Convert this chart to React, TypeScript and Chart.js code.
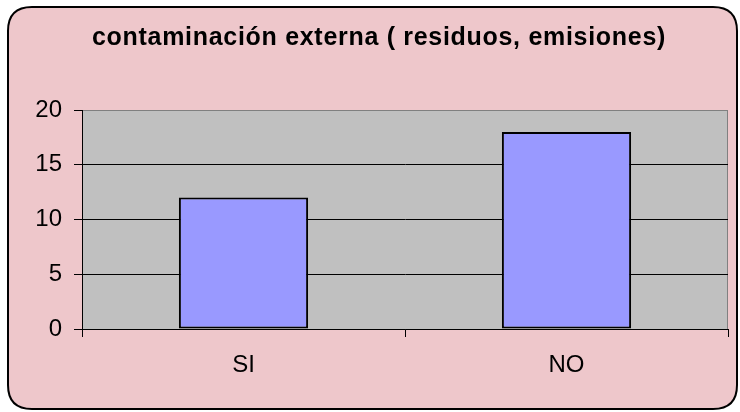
import React, { useEffect, useRef } from "react";
import { Chart, registerables } from "chart.js";

Chart.register(...registerables);

const categories = ["SI", "NO"];
const values = [12, 18];
const yTicks = [0, 5, 10, 15, 20];
const titleText = "contaminación externa ( residuos, emisiones)";

const FONT = "'Liberation Sans', Arial, sans-serif";

function roundRect(ctx: CanvasRenderingContext2D, x: number, y: number, w: number, h: number, r: number) {
  ctx.beginPath();
  ctx.moveTo(x + r, y);
  ctx.lineTo(x + w - r, y);
  ctx.quadraticCurveTo(x + w, y, x + w, y + r);
  ctx.lineTo(x + w, y + h - r);
  ctx.quadraticCurveTo(x + w, y + h, x + w - r, y + h);
  ctx.lineTo(x + r, y + h);
  ctx.quadraticCurveTo(x, y + h, x, y + h - r);
  ctx.lineTo(x, y + r);
  ctx.quadraticCurveTo(x, y, x + r, y);
  ctx.closePath();
}

const framePlugin = {
  id: "frame",
  beforeDraw(chart: any) {
    const ctx = chart.ctx as CanvasRenderingContext2D;
    const { left, right, top, bottom } = chart.chartArea;
    ctx.save();
    ctx.fillStyle = "#fff";
    ctx.fillRect(0, 0, chart.width, chart.height);
    roundRect(ctx, 8, 7, 729, 402, 24);
    ctx.fillStyle = "#EEC7CB";
    ctx.fill();
    ctx.lineWidth = 2;
    ctx.strokeStyle = "#000";
    ctx.stroke();
    ctx.fillStyle = "#C0C0C0";
    ctx.fillRect(left, top, right - left, bottom - top);
    ctx.strokeStyle = "#808080";
    ctx.lineWidth = 1;
    ctx.beginPath();
    ctx.moveTo(left, top + 0.5);
    ctx.lineTo(right - 0.5, top + 0.5);
    ctx.lineTo(right - 0.5, bottom);
    ctx.stroke();
    ctx.restore();
  },
  afterDraw(chart: any) {
    const ctx = chart.ctx as any;
    ctx.save();
    ctx.font = `bold 25px ${FONT}`;
    ctx.fillStyle = "#000";
    ctx.textAlign = "center";
    ctx.textBaseline = "alphabetic";
    try { ctx.letterSpacing = "0.7px"; } catch (e) {}
    ctx.fillText(titleText, 379, 45);
    ctx.restore();
  },
};

export default function App() {
  const ref = useRef<HTMLCanvasElement>(null);
  useEffect(() => {
    document.body.style.margin = "0";
    const chart = new Chart(ref.current!, {
      type: "bar",
      data: {
        labels: categories,
        datasets: [
          {
            data: values,
            backgroundColor: "#9999FF",
            borderColor: "#000",
            borderWidth: 2,
            borderSkipped: false,
            barPercentage: 0.4,
            categoryPercentage: 1.0,
          },
        ],
      },
      options: {
        responsive: false,
        animation: false,
        layout: { padding: { left: 0, right: 12, top: 110, bottom: 0 } },
        plugins: { legend: { display: false }, tooltip: { enabled: false }, title: { display: false } },
        scales: {
          x: {
            afterFit: (s: any) => { s.height = 83; },
            grid: { display: true, drawOnChartArea: false, drawTicks: true, tickLength: 8, tickColor: "#000", offset: true },
            border: { display: true, color: "#000", width: 1 },
            ticks: { color: "#000", font: { family: FONT, size: 24 }, padding: 14 },
          },
          y: {
            min: 0,
            max: 20,
            afterFit: (s: any) => { s.width = 82; },
            afterBuildTicks: (s: any) => { s.ticks = yTicks.map((v) => ({ value: v })); },
            grid: {
              color: (c: any) => (c.tick && c.tick.value === 20 ? "#808080" : "#000"),
              tickColor: "#000",
              tickLength: 8,
              lineWidth: 1,
            },
            border: { display: true, color: "#000", width: 1 },
            ticks: { color: "#000", font: { family: FONT, size: 24 }, padding: 12, stepSize: 5 },
          },
        },
      },
      plugins: [framePlugin],
    });
    return () => chart.destroy();
  }, []);
  return (
    <div style={{ position: "fixed", left: 0, top: 0, width: 740, height: 412 }}>
      <canvas ref={ref} width={740} height={412} />
    </div>
  );
}
